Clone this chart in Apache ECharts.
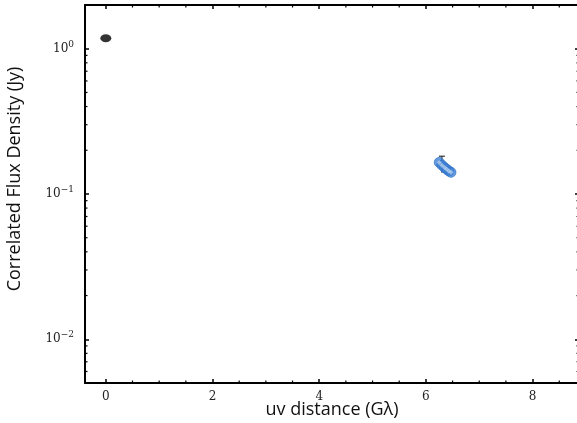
<!DOCTYPE html>
<html>
<head>
<meta charset="utf-8">
<script src="https://cdn.jsdelivr.net/npm/echarts@6/dist/echarts.min.js"></script>
<style>
  html, body { margin: 0; padding: 0; background: #fff; }
  #chart { width: 577px; height: 423px; }
</style>
</head>
<body>
<div id="chart"></div>
<script>
// axis ranges
var xMin = -0.39, xMax = 8.87;
var yMin = 0.005, yMax = 2;

// zero-spacing point
var zeroX = [0.0];
var zeroY = [1.18];

// long baseline cluster
var clusterX = [6.25, 6.30, 6.35, 6.39, 6.43, 6.47];
var clusterY = [0.165, 0.158, 0.152, 0.148, 0.144, 0.141];

// error bar on the cluster
var errX = [6.30];
var errLow = [0.140];
var errHigh = [0.182];

// minor ticks (matplotlib style)
var xMinorTicks = [0.5, 1, 1.5, 2.5, 3, 3.5, 4.5, 5, 5.5, 6.5, 7, 7.5, 8.5];
var yMinorTicks = [0.006, 0.007, 0.008, 0.009,
                   0.02, 0.03, 0.04, 0.05, 0.06, 0.07, 0.08, 0.09,
                   0.2, 0.3, 0.4, 0.5, 0.6, 0.7, 0.8, 0.9];

var chart = echarts.init(document.getElementById('chart'));

function pairs(xs, ys) {
    var out = [];
    for (var i = 0; i < xs.length; i++) out.push([xs[i], ys[i]]);
    return out;
}

var minorData = [];
for (var i = 0; i < xMinorTicks.length; i++) minorData.push([xMinorTicks[i], 0]);
for (var j = 0; j < yMinorTicks.length; j++) minorData.push([yMinorTicks[j], 1]);

var errData = [];
for (var k = 0; k < errX.length; k++) errData.push([errX[k], errLow[k], errHigh[k]]);

var tickFont = 'DejaVu Serif';
var richLabel = {
    b: { fontFamily: tickFont, fontSize: 12, color: '#222' },
    s: { fontFamily: tickFont, fontSize: 9, color: '#222', verticalAlign: 'top', padding: [0, 0, 9, 0] }
};

function logLabel(v) {
    var e = Math.log10(v);
    var r = Math.round(e);
    if (Math.abs(e - r) > 1e-6) return '';
    return '{b|10}{s|' + (r < 0 ? '\u2212' + (-r) : r) + '}';
}

function xLabel(v) {
    if (Math.abs(v - Math.round(v)) > 1e-6 || Math.round(v) % 2 !== 0) return '';
    return String(Math.round(v));
}

var axisLine = { show: true, onZero: false, lineStyle: { color: '#000', width: 2 } };
var axisTick = { show: true, inside: true, length: 4, lineStyle: { color: '#000', width: 1.5 } };

var option = {
    animation: false,
    grid: { left: 85, top: 5, width: 494, height: 378, containLabel: false, outerBoundsMode: 'none' },
    xAxis: [{
        type: 'value', min: xMin, max: xMax, position: 'bottom',
        axisLine: axisLine, axisTick: axisTick, splitLine: { show: false },
        axisLabel: { formatter: xLabel, fontFamily: tickFont, fontSize: 12, color: '#222', margin: 8,
                     showMinLabel: true, showMaxLabel: true }
    }, {
        type: 'value', min: xMin, max: xMax, position: 'top',
        axisLine: axisLine, axisTick: axisTick, splitLine: { show: false },
        axisLabel: { show: false }
    }],
    yAxis: [{
        type: 'log', min: yMin, max: yMax, logBase: 10, position: 'left',
        axisLine: axisLine, axisTick: axisTick, splitLine: { show: false },
        axisLabel: { formatter: logLabel, rich: richLabel, margin: 11 }
    }, {
        type: 'log', min: yMin, max: yMax, logBase: 10, position: 'right',
        axisLine: axisLine, axisTick: axisTick, splitLine: { show: false },
        axisLabel: { show: false }
    }],
    graphic: [{
        type: 'text', x: 15, y: 179, rotation: Math.PI / 2,
        style: { text: 'Correlated Flux Density (Jy)', fontFamily: 'Open Sans', fontSize: 18,
                 fill: '#111', align: 'center', verticalAlign: 'middle' }
    }, {
        type: 'text', x: 332, y: 410,
        style: { text: 'uv distance (G\u03bb)', fontFamily: 'Open Sans', fontSize: 18,
                 fill: '#111', align: 'center', verticalAlign: 'middle' }
    }],
    series: [{
        type: 'custom', name: 'minor ticks', clip: false, silent: true, z: 5,
        data: minorData,
        renderItem: function (params, api) {
            var v = api.value(0), dir = api.value(1);
            var len = 2.5, a, b;
            if (dir === 0) {
                a = api.coord([v, yMin]);
                b = api.coord([v, yMax]);
                return { type: 'group', children: [
                    { type: 'line', shape: { x1: a[0], y1: a[1], x2: a[0], y2: a[1] - len }, style: { stroke: '#000', lineWidth: 1.2 } },
                    { type: 'line', shape: { x1: b[0], y1: b[1], x2: b[0], y2: b[1] + len }, style: { stroke: '#000', lineWidth: 1.2 } }
                ]};
            }
            a = api.coord([xMin, v]);
            b = api.coord([xMax, v]);
            return { type: 'group', children: [
                { type: 'line', shape: { x1: a[0], y1: a[1], x2: a[0] + len, y2: a[1] }, style: { stroke: '#000', lineWidth: 1.2 } },
                { type: 'line', shape: { x1: b[0], y1: b[1], x2: b[0] - len, y2: b[1] }, style: { stroke: '#000', lineWidth: 1.2 } }
            ]};
        }
    }, {
        type: 'scatter', name: 'zero spacing', data: pairs(zeroX, zeroY),
        symbol: 'circle', symbolSize: [11, 8], itemStyle: { color: '#000' }, z: 3
    }, {
        type: 'custom', name: 'error', z: 3,
        data: errData,
        renderItem: function (params, api) {
            var lo = api.coord([api.value(0), api.value(1)]);
            var hi = api.coord([api.value(0), api.value(2)]);
            var cap = 3;
            return { type: 'group', children: [
                { type: 'line', shape: { x1: lo[0], y1: lo[1], x2: hi[0], y2: hi[1] }, style: { stroke: '#333', lineWidth: 1.2 } },
                { type: 'line', shape: { x1: hi[0] - cap, y1: hi[1], x2: hi[0] + cap, y2: hi[1] }, style: { stroke: '#333', lineWidth: 1.2 } }
            ]};
        }
    }, {
        type: 'scatter', name: 'cluster', data: pairs(clusterX, clusterY),
        symbol: 'circle', symbolSize: 10,
        itemStyle: { color: '#3f82d6', borderColor: '#2a6cc4', borderWidth: 0.8 }, z: 4
    }, {
        type: 'scatter', name: 'cluster inner', data: pairs(clusterX, clusterY),
        symbol: 'diamond', symbolSize: 5,
        itemStyle: { color: '#b3cdee' }, z: 5
    }]
};

chart.setOption(option);
</script>
</body>
</html>
